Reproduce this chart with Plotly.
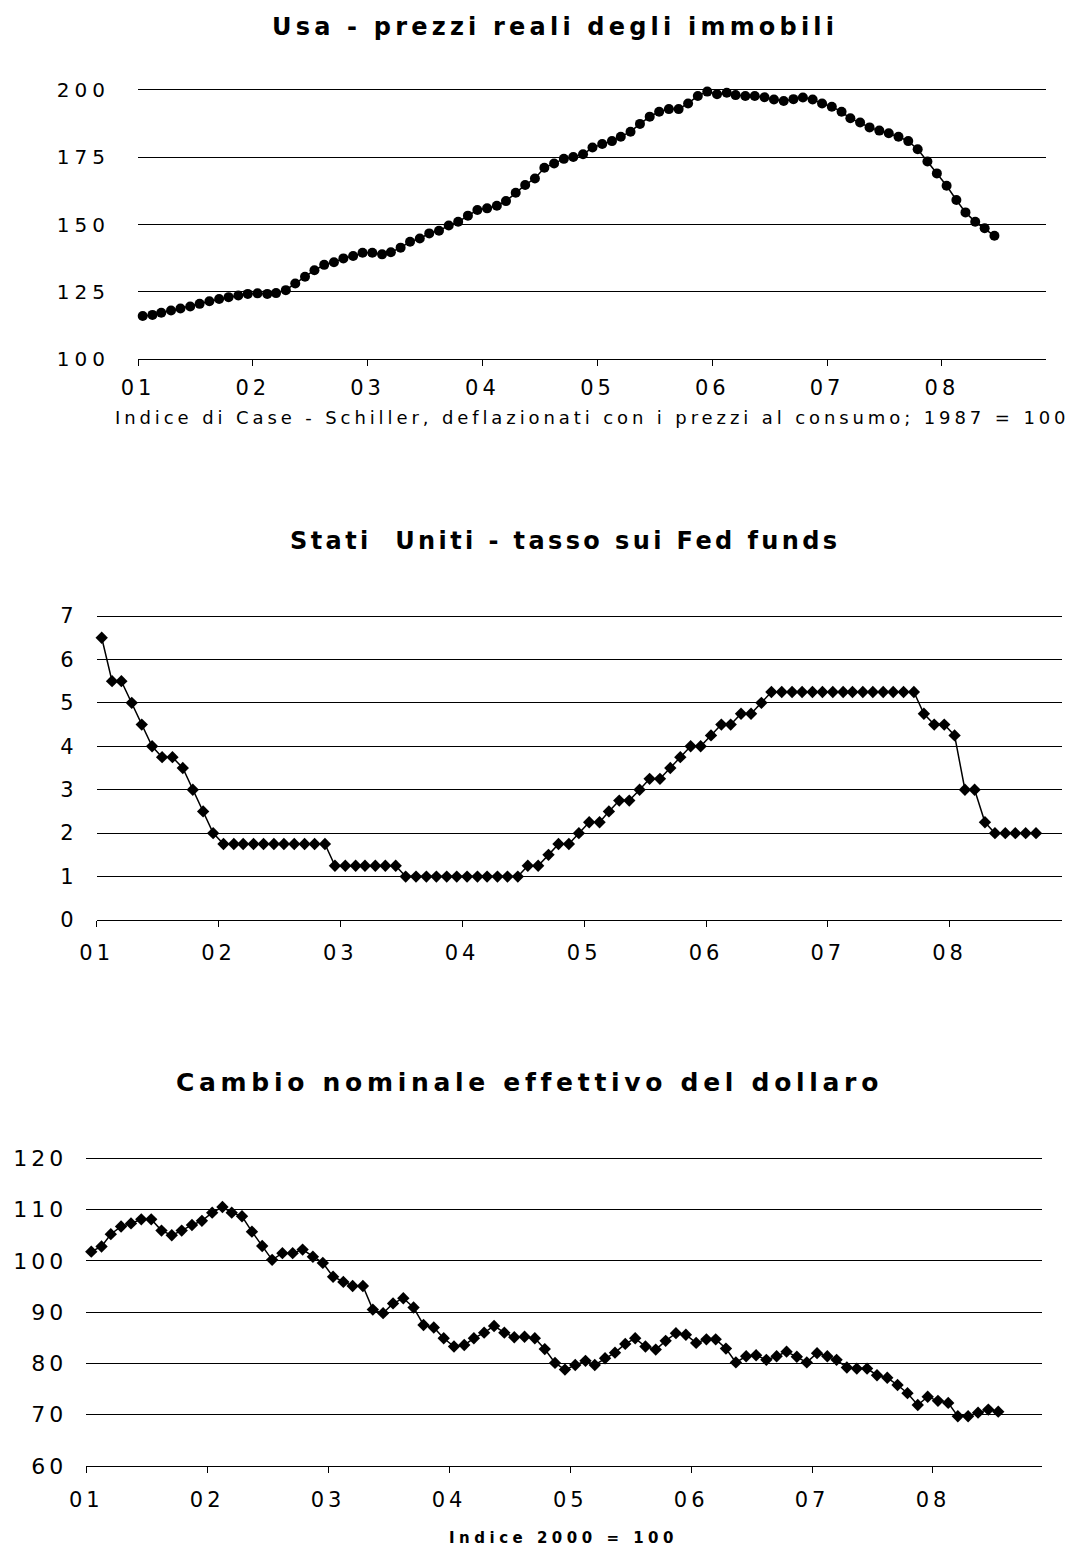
import pandas as pd
import plotly.graph_objects as go

W, H = 1076, 1551

# ---- data -------------------------------------------------------------
year_labels = ["01", "02", "03", "04", "05", "06", "07", "08"]

# Case-Shiller real house prices (1987 = 100), monthly from Jan 2001
house_prices = [
    116.0, 116.4, 117.2, 118.0, 118.8, 119.5, 120.5, 121.5, 122.3, 123.0, 123.6, 124.2,
    124.4, 124.2, 124.5, 125.6, 128.1, 130.6, 133.0, 135.0, 136.0, 137.4, 138.3, 139.5,
    139.5, 138.9, 139.7, 141.4, 143.6, 144.8, 146.7, 147.7, 149.6, 151.0, 153.3, 155.4,
    156.0, 157.0, 158.7, 161.8, 164.7, 167.1, 171.1, 172.7, 174.4, 175.1, 176.1, 178.6,
    179.9, 181.0, 182.6, 184.5, 187.4, 190.1, 191.9, 192.9, 192.9, 195.0, 197.8, 199.4,
    198.4, 199.0, 198.1, 197.8, 197.8, 197.3, 196.5, 195.9, 196.6, 197.2, 196.5, 195.0,
    193.8, 191.9, 189.5, 187.9, 186.1, 184.9, 183.9, 182.6, 181.0, 178.0, 173.4, 169.0,
    164.4, 159.1, 154.5, 151.0, 148.6, 145.8,
]

# Fed funds target rate (%), monthly from Jan 2001
fed_funds = [
    6.5, 5.5, 5.5, 5.0, 4.5, 4.0, 3.75, 3.75, 3.5, 3.0, 2.5, 2.0,
    1.75, 1.75, 1.75, 1.75, 1.75, 1.75, 1.75, 1.75, 1.75, 1.75, 1.75, 1.25,
    1.25, 1.25, 1.25, 1.25, 1.25, 1.25, 1.0, 1.0, 1.0, 1.0, 1.0, 1.0,
    1.0, 1.0, 1.0, 1.0, 1.0, 1.0, 1.25, 1.25, 1.5, 1.75, 1.75, 2.0,
    2.25, 2.25, 2.5, 2.75, 2.75, 3.0, 3.25, 3.25, 3.5, 3.75, 4.0, 4.0,
    4.25, 4.5, 4.5, 4.75, 4.75, 5.0, 5.25, 5.25, 5.25, 5.25, 5.25, 5.25,
    5.25, 5.25, 5.25, 5.25, 5.25, 5.25, 5.25, 5.25, 5.25, 4.75, 4.5, 4.5,
    4.25, 3.0, 3.0, 2.25, 2.0, 2.0, 2.0, 2.0, 2.0,
]

# Nominal effective dollar exchange rate (2000 = 100), monthly from Jan 2001
dollar_index = [
    101.8, 102.8, 105.2, 106.7, 107.3, 108.1, 108.1, 105.9, 105.0, 105.9, 107.0, 107.8,
    109.4, 110.5, 109.4, 108.7, 105.7, 102.9, 100.2, 101.5, 101.5, 102.2, 100.8, 99.6,
    96.9, 95.9, 95.1, 95.1, 90.5, 89.8, 91.7, 92.7, 90.9, 87.5, 87.0, 84.9,
    83.3, 83.6, 84.9, 86.0, 87.3, 86.0, 85.1, 85.2, 84.9, 82.8, 80.1, 78.8,
    79.7, 80.5, 79.7, 81.0, 82.1, 83.8, 84.9, 83.3, 82.7, 84.4, 85.9, 85.6,
    84.0, 84.7, 84.7, 82.9, 80.2, 81.4, 81.6, 80.7, 81.4, 82.3, 81.3, 80.2,
    82.0, 81.4, 80.7, 79.2, 79.0, 79.0, 77.7, 77.2, 75.8, 74.2, 71.9, 73.5,
    72.7, 72.3, 69.7, 69.7, 70.4, 71.0, 70.6,
]

titles = [
    "Usa - prezzi reali degli immobili",
    "Stati  Uniti - tasso sui Fed funds",
    "Cambio nominale effettivo del dollaro",
]
notes = [
    "Indice di Case - Schiller, deflazionati con i prezzi al consumo; 1987 = 100",
    "Indice 2000 = 100",
]

house_ticks = [100, 125, 150, 175, 200]
fed_ticks = [0, 1, 2, 3, 4, 5, 6, 7]
dollar_ticks = [60, 70, 80, 90, 100, 110, 120]


# ---- helpers ----------------------------------------------------------
HEADROOM = 0.015  # share of the value span added above the top gridline


def mid_months(n):
    return pd.date_range("2001-01-01", periods=n, freq="MS") + pd.Timedelta(days=15)


year_starts = pd.date_range("2001-01-01", periods=len(year_labels), freq="YS")


def spaced(text, px):
    return f"<span style='letter-spacing:{px}px'>{text}</span>"


def hdom(left, right):
    return [left / W, right / W]


def vdom(top, bottom):
    # top is where the highest gridline sits; the domain reaches a bit above it
    top_edge = top - HEADROOM * (bottom - top)
    return [1 - bottom / H, 1 - top_edge / H]


def tick_font(size):
    return dict(family="DejaVu Sans", size=size, color="black")


def x_axis(dom, anchor, end, standoff):
    return dict(
        domain=dom, anchor=anchor, type="date", automargin=False,
        range=["2001-01-01", end],
        tickvals=list(year_starts), ticktext=[spaced(t, 4) for t in year_labels],
        ticks="outside", ticklen=6, tickwidth=1, tickcolor="black",
        showline=True, linecolor="black", linewidth=1,
        showgrid=False, zeroline=False, tickfont=tick_font(21),
        ticklabelstandoff=standoff,
    )


def y_axis(dom, anchor, lo, hi, ticks, size, spacing, standoff):
    return dict(
        domain=dom, anchor=anchor, range=[lo, hi + HEADROOM * (hi - lo)], automargin=False,
        tickvals=ticks, ticktext=[spaced(t, spacing) for t in ticks],
        ticks="", showline=False, zeroline=False,
        showgrid=True, gridcolor="black", gridwidth=1,
        tickfont=tick_font(size), ticklabelstandoff=standoff,
    )


# ---- figure -----------------------------------------------------------
fig = go.Figure()

fig.add_trace(go.Scatter(
    x=mid_months(len(house_prices)), y=house_prices, xaxis="x", yaxis="y",
    mode="lines+markers", line=dict(color="black", width=1.5), cliponaxis=False,
    marker=dict(symbol="circle", size=10, color="black"),
))
fig.add_trace(go.Scatter(
    x=mid_months(len(fed_funds)), y=fed_funds, xaxis="x2", yaxis="y2",
    mode="lines+markers", line=dict(color="black", width=1.5), cliponaxis=False,
    marker=dict(symbol="diamond", size=9.5, color="black"),
))
fig.add_trace(go.Scatter(
    x=mid_months(len(dollar_index)), y=dollar_index, xaxis="x3", yaxis="y3",
    mode="lines+markers", line=dict(color="black", width=1.5), cliponaxis=False,
    marker=dict(symbol="diamond", size=9.5, color="black"),
))

title_specs = [
    (titles[0], 555, 27, 24, 4.2),
    (titles[1], 565, 541, 24, 3.4),
    (titles[2], 529, 1082, 25, 4.7),
]
annotations = []
for text, cx, cy, size, sp in title_specs:
    annotations.append(dict(
        text=spaced(text, sp), x=cx / W, y=1 - cy / H, xref="paper", yref="paper",
        showarrow=False, xanchor="center", yanchor="middle",
        font=dict(family="DejaVu Sans", size=size, color="black", weight="bold"),
    ))
annotations.append(dict(
    text=spaced(notes[0], 3.9), x=592 / W, y=1 - 417 / H, xref="paper", yref="paper",
    showarrow=False, xanchor="center", yanchor="middle",
    font=dict(family="DejaVu Sans", size=18, color="black"),
))
annotations.append(dict(
    text=spaced(notes[1], 4.5), x=563 / W, y=1 - 1538 / H, xref="paper", yref="paper",
    showarrow=False, xanchor="center", yanchor="middle",
    font=dict(family="DejaVu Sans", size=15, color="black", weight="bold"),
))

fig.update_layout(
    width=W, height=H, margin=dict(l=0, r=0, t=0, b=0, autoexpand=False),
    paper_bgcolor="white", plot_bgcolor="white", showlegend=False,
    xaxis=x_axis(hdom(138, 1046), "y", "2008-11-27", 4),
    yaxis=y_axis(vdom(90, 359), "x", 100, 200, house_ticks, 20, 5, 27),
    xaxis2=x_axis(hdom(96.7, 1061.7), "y2", "2008-12-02", 8),
    yaxis2=y_axis(vdom(616, 920), "x2", 0, 7, fed_ticks, 21, 4, 18),
    xaxis3=x_axis(hdom(86.3, 1042.3), "y3", "2008-11-26", 9),
    yaxis3=y_axis(vdom(1158.3, 1466), "x3", 60, 120, dollar_ticks, 22, 4, 18),
    annotations=annotations,
)

fig.write_html("out.html")
